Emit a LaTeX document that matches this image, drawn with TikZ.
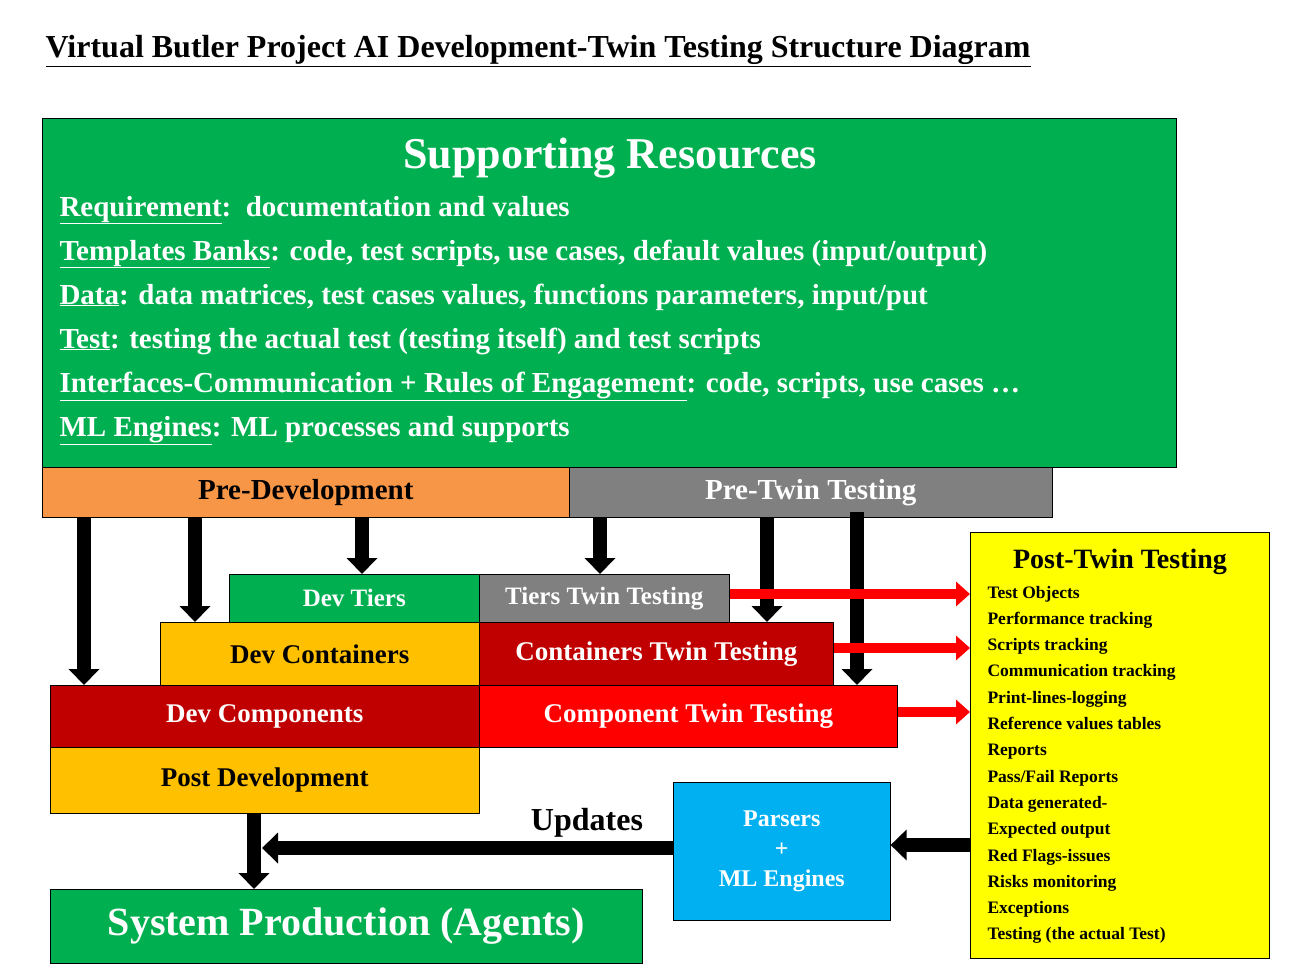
\documentclass[tikz,border=0pt]{standalone}
\usepackage{fontspec}
\setmainfont{Liberation Serif}
\usetikzlibrary{arrows.meta}
\definecolor{gr}{HTML}{00B050}
\definecolor{orb}{HTML}{F79646}
\definecolor{gy}{HTML}{808080}
\definecolor{go}{HTML}{FFC000}
\definecolor{dr}{HTML}{C00000}
\definecolor{cy}{HTML}{00B0F0}
\definecolor{yl}{HTML}{FFFF00}
\newcommand{\fs}[1]{\fontsize{#1}{#1}\selectfont\bfseries}
\begin{document}
\begin{tikzpicture}[x=1pt,y=-1pt,
  box/.style={draw=black,line width=0.6pt,anchor=north west,inner sep=0pt},
  blk/.style={line width=14pt,-{Triangle[width=30pt,length=16pt]},black},
  redar/.style={line width=10pt,-{Triangle[width=24pt,length=14pt]},red},
  lbl/.style={font=\fs{26}}]
\useasboundingbox (0,0) rectangle (1302,971);
\node[anchor=base west,font=\fs{32}] (title) at (42,58) {\underline{Virtual Butler Project AI Development-Twin Testing Structure Diagram}};
% supporting
\node[box,fill=gr,minimum width=1134pt,minimum height=349pt] (sup) at (42,118) {};
\node[anchor=base,font=\fs{44},white] (suptitle) at (610,169) {Supporting Resources};
\begin{scope}[every node/.style={anchor=base west,font=\fs{29},white}]
\node (l1) at (56,216) {\underline{Requirement}:\ \ documentation and values};
\node (l2) at (56,260) {\underline{Templates Banks}: code, test scripts, use cases, default values (input/output)};
\node (l3) at (56,304) {\underline{Data}: data matrices, test cases values, functions parameters, input/put};
\node (l4) at (56,348) {\underline{Test}: testing the actual test (testing itself) and test scripts};
\node (l5) at (56,392) {\underline{Interfaces-Communication + Rules of Engagement}: code, scripts, use cases \dots};
\node (l6) at (56,436) {\underline{ML Engines}: ML processes and supports};
\end{scope}
% pre
\node[box,fill=orb,minimum width=527pt,minimum height=50pt,font=\fs{29}] (predev) at (42,467) {Pre-Development};
\node[box,fill=gy,minimum width=483pt,minimum height=50pt,font=\fs{29},text=white] (pretwin) at (569,467) {Pre-Twin Testing};
% tiers
\node[box,fill=gr,minimum width=250pt,minimum height=48pt,font=\fs{25},text=white] (tiers) at (229,574) {Dev Tiers};
\node[box,fill=gy,minimum width=250pt,minimum height=48pt,font=\fs{25},text=white] (ttiers) at (479,574) {Tiers Twin Testing};
\node[box,fill=go,minimum width=319pt,minimum height=63pt,font=\fs{27}] (cont) at (160,622) {Dev Containers};
\node[box,fill=dr,minimum width=354pt,minimum height=63pt,font=\fs{27},text=white] (tcont) at (479,622) {Containers Twin Testing};
\node[box,fill=dr,minimum width=429pt,minimum height=62pt,font=\fs{27},text=white] (comp) at (50,685) {Dev Components};
\node[box,fill=red,minimum width=418pt,minimum height=62pt,font=\fs{27},text=white] (tcomp) at (479,685) {Component Twin Testing};
\node[box,fill=go,minimum width=429pt,minimum height=66pt,font=\fs{27}] (post) at (50,747) {Post Development};
\node[box,fill=cy,minimum width=217pt,minimum height=138pt,font=\fs{24},text=white,align=center] (pars) at (673,782) {Parsers\\[6pt]+\\[6pt]ML Engines};
\node[box,fill=gr,minimum width=592pt,minimum height=74pt,font=\fs{40},text=white] (prod) at (50,889) {System Production (Agents)};
% yellow
\node[box,fill=yl,minimum width=299pt,minimum height=426pt] (ptt) at (970,532) {};
\node[anchor=base,font=\fs{28}] (ptttitle) at (1120,568) {Post-Twin Testing};
\begin{scope}[every node/.style={anchor=base west,font=\fs{17.5}}]
\foreach \t [count=\i] in {Test Objects,Performance tracking,Scripts tracking,Communication tracking,Print-lines-logging,Reference values tables,Reports,Pass/Fail Reports,Data generated-,Expected output,Red Flags-issues,Risks monitoring,Exceptions,Testing (the actual Test)}
  \node (it\i) at (984,{598+26.3*(\i-1)}) {\t};
\end{scope}
\node[anchor=base,font=\fs{32}] (upd) at (587,830) {Updates};
% arrows
\draw[blk] (predev.south -| 84,0) -- (comp.north -| 84,0);
\draw[blk] (predev.south -| 195,0) -- (cont.north -| 195,0);
\draw[blk] (predev.south -| 362,0) -- (tiers.north -| 362,0);
\draw[blk] (pretwin.south -| 600,0) -- (ttiers.north -| 600,0);
\draw[blk] (pretwin.south -| 767,0) -- (tcont.north -| 767,0);
\draw[blk] (857,512) -- (tcomp.north -| 857,0);
\draw[blk] (post.south -| 254,0) -- (prod.north -| 254,0);
\draw[blk] (pars.west |- 0,848) -- (262,848);
\draw[blk] (ptt.west |- 0,845) -- (pars.east |- 0,845);
\draw[redar] (ttiers.east |- 0,594) -- (ptt.west |- 0,594);
\draw[redar] (tcont.east |- 0,648) -- (ptt.west |- 0,648);
\draw[redar] (tcomp.east |- 0,712) -- (ptt.west |- 0,712);
\end{tikzpicture}
\end{document}
